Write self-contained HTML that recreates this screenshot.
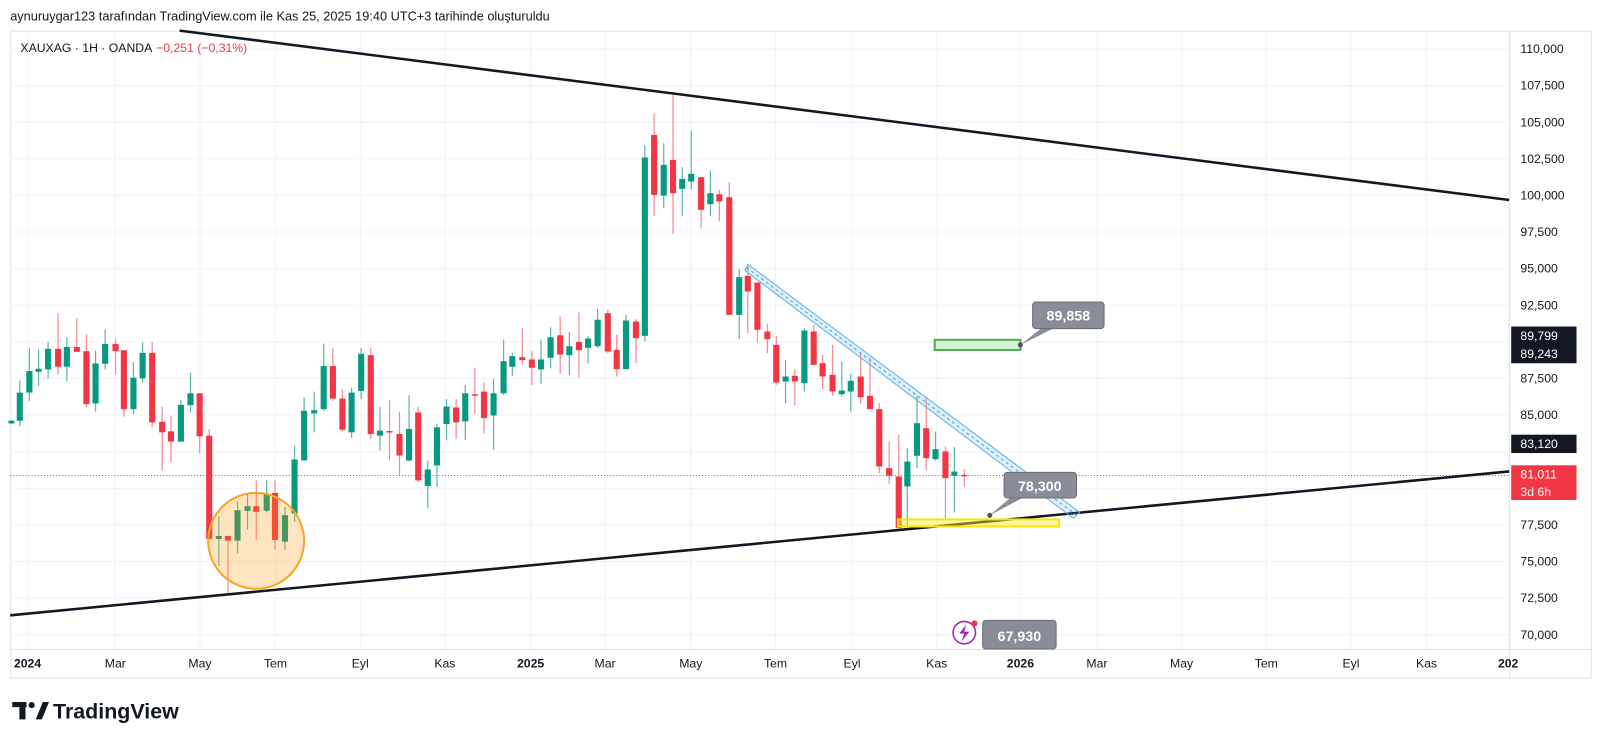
<!DOCTYPE html>
<html><head><meta charset="utf-8"><style>
body{margin:0;background:#fff;width:1600px;height:745px;overflow:hidden;font-family:"Liberation Sans",Arial,sans-serif}
svg text{font-family:"Liberation Sans",Arial,sans-serif}
</style></head><body>
<svg width="1600" height="745" xmlns="http://www.w3.org/2000/svg">
<rect x="0" y="0" width="1600" height="745" fill="#fff"/>
<g transform="scale(1.0204)">
<text x="10" y="20" font-size="12.5" fill="#131722">aynuruygar123 tarafından TradingView.com ile Kas 25, 2025 19:40 UTC+3 tarihinde oluşturuldu</text>
<rect x="10.5" y="30.5" width="1549" height="634" fill="none" stroke="#e0e3eb"/>
<line x1="1479.5" y1="30" x2="1479.5" y2="665" stroke="#e0e3eb"/>
<line x1="10" y1="636.5" x2="1560" y2="636.5" stroke="#e0e3eb"/>
<g id="grid" stroke="#f0f3fa" stroke-width="1"></g>
<g id="ylab" font-size="12" fill="#131722"></g>
<g id="xlab" font-size="12" fill="#131722"></g>
<line x1="10" y1="466" x2="1479" y2="466" stroke="#f23645" stroke-width="1" stroke-dasharray="1,2"/>
<g id="candles"></g>
<line x1="176" y1="30" x2="1479" y2="196" stroke="#131722" stroke-width="2.5"/>
<line x1="10" y1="603" x2="1479" y2="462" stroke="#131722" stroke-width="2.5"/>
<ellipse cx="251" cy="530" rx="47" ry="47" fill="rgba(255,152,0,0.25)" stroke="#f5a623" stroke-width="2"/>
<polygon points="733,259 1058,502 1052,508 730,265" fill="rgba(33,150,243,0.15)" stroke="#5fb4d9" stroke-width="1"/>
<line x1="731.5" y1="262" x2="1055" y2="505" stroke="#5b9bd5" stroke-width="1" stroke-dasharray="3,3"/>
<rect x="916" y="333" width="84" height="10" fill="#d6f0d3" stroke="#4caf50" stroke-width="2"/>
<rect x="880" y="509" width="158" height="7" fill="rgba(255,235,59,0.45)" stroke="#f5e50a" stroke-width="2"/>
<polygon points="1020,322 1032,322 1000,338" fill="#8a8d97"/>
<rect x="1012" y="296" width="70" height="26" rx="3" fill="#8a8d97" stroke="#6b6e78"/>
<text x="1047" y="314" font-size="14" font-weight="bold" fill="#fff" text-anchor="middle">89,858</text>
<circle cx="1000" cy="338" r="2.5" fill="#555"/>
<polygon points="990,488 1002,488 970,505" fill="#8a8d97"/>
<rect x="984" y="463" width="71" height="25" rx="3" fill="#8a8d97" stroke="#6b6e78"/>
<text x="1019" y="481" font-size="14" font-weight="bold" fill="#fff" text-anchor="middle">78,300</text>
<circle cx="970" cy="505" r="2.5" fill="#555"/>
<rect x="963" y="608" width="72" height="28" rx="3" fill="#8a8d97" stroke="#6b6e78"/>
<text x="999" y="628" font-size="14" font-weight="bold" fill="#fff" text-anchor="middle">67,930</text>
<circle cx="945" cy="620" r="11" fill="#fff" stroke="#9c27b0" stroke-width="1.5"/>
<path d="M947,612 L940,621 L945,621 L942,629 L950,619 L945,619 Z" fill="#9c27b0"/>
<circle cx="955" cy="611" r="3" fill="#f23645"/>
<text x="20" y="51" font-size="12" fill="#131722">XAUXAG · 1H · OANDA</text>
<text x="153" y="51" font-size="12" fill="#f23645">−0,251 (−0,31%)</text>
<rect x="1481" y="320" width="64" height="36" fill="#131722"/>
<text x="1490" y="333" font-size="12" fill="#fff">89,799</text>
<text x="1490" y="351" font-size="12" fill="#fff">89,243</text>
<rect x="1481" y="426" width="64" height="18" fill="#131722"/>
<text x="1490" y="439" font-size="12" fill="#fff">83,120</text>
<rect x="1481" y="456" width="64" height="34" fill="#f23645"/>
<text x="1490" y="469" font-size="12" fill="#fff">81,011</text>
<text x="1490" y="486" font-size="12" fill="#fff">3d 6h</text>
<g fill="#131722">
<rect x="12" y="688" width="14" height="5"/><rect x="19" y="688" width="6" height="17"/>
<circle cx="31" cy="691" r="3"/>
<polygon points="35,705 42,688 48,688 41,705"/>
</g>
<text x="52" y="704" font-size="21" font-weight="bold" fill="#131722">TradingView</text>
</g>
</svg>
<script>
var ns="http://www.w3.org/2000/svg";
function el(p,t,a,tx){var e=document.createElementNS(ns,t);for(var k in a)e.setAttribute(k,a[k]);if(tx)e.textContent=tx;document.getElementById(p).appendChild(e);return e;}
var prices=["110,000","107,500","105,000","102,500","100,000","97,500","95,000","92,500","90,000","87,500","85,000","82,500","80,000","77,500","75,000","72,500","70,000"];
for(var i=0;i<prices.length;i++){var y=48+i*35.875;
 el("grid","line",{x1:10,x2:1479,y1:y,y2:y});
 if(["90,000","82,500","80,000"].indexOf(prices[i])<0) el("ylab","text",{x:1490,y:y+4},prices[i]);}
var xs=[[27,"2024",1],[113,"Mar"],[196,"May"],[270,"Tem"],[353,"Eyl"],[436,"Kas"],[520,"2025",1],[593,"Mar"],[677,"May"],[760,"Tem"],[835,"Eyl"],[918,"Kas"],[1000,"2026",1],[1075,"Mar"],[1158,"May"],[1241,"Tem"],[1324,"Eyl"],[1398,"Kas"],[1478,"202",1]];
xs.forEach(function(a){el("grid","line",{x1:a[0],x2:a[0],y1:31,y2:636});
 var t=el("xlab","text",{x:a[0],y:654,"text-anchor":"middle"},a[1]);if(a[2])t.setAttribute("font-weight","bold");});
var z1=[[30,420,428,418,430,'g'],[50,335,420,298,437,'g'],[73,270,335,200,360,'g'],[95,263,272,205,315,'g'],[118,203,265,183,292,'g'],[142,203,257,95,280,'r'],[163,197,257,168,300,'g'],[187,197,212,110,212,'r'],[210,210,370,160,380,'r'],[232,247,368,208,392,'g'],[255,188,248,145,265,'g'],[280,188,210,172,280,'r'],[300,207,385,207,408,'r'],[323,290,385,243,400,'g'],[345,215,292,183,305,'g'],[368,215,425,183,440,'r'],[392,423,455,378,570,'r'],[413,452,483,405,545,'r'],[437,372,483,358,482,'g'],[460,337,373,275,395,'g'],[482,337,467,337,518,'r'],[505,465,777,445,777,'r'],[528,768,777,708,858,'g'],[550,768,782,768,940,'r'],[573,690,782,663,820,'g'],[597,678,692,640,748,'g'],[618,678,695,600,780,'r'],[643,640,692,600,697,'g'],[663,638,780,600,810,'r'],[687,705,785,680,810,'g'],[710,537,700,495,725,'g'],[733,390,540,350,540,'g'],[757,388,398,332,455,'g'],[780,255,385,187,390,'g'],[802,255,353,200,360,'r'],[825,353,447,325,452,'r'],[847,335,455,320,472,'g'],[870,218,330,200,355,'g'],[893,222,460,200,475,'r'],[915,450,465,378,510,'g'],[938,451,455,358,540,'r'],[962,460,525,393,585,'r'],[985,445,540,343,542,'g'],[1007,395,600,378,605,'r'],[1030,567,617,540,683,'g'],[1052,440,555,430,620,'g'],[1075,377,430,355,478,'g'],[1098,380,425,355,475,'r'],[1120,337,422,313,478,'g'],[1143,340,344,260,400,'r'],[1165,332,412,305,458,'r'],[1188,337,404,293,507,'g'],[1212,240,337,175,342,'g'],[1233,225,257,215,285,'g'],[1257,228,237,140,250,'r'],[1280,235,260,210,312,'r'],[1302,235,265,175,308,'g'],[1325,168,230,138,262,'g'],[1348,162,220,105,278,'r'],[1370,195,222,152,282,'g'],[1393,182,207,93,290,'r'],[1415,172,200,165,247,'g'],[1438,115,195,82,200,'g']];
var z2=[[18,700,815,690,820,'r'],[45,810,868,765,890,'r'],[73,722,868,705,868,'g'],[103,725,775,718,850,'r'],[130,233,768,195,785,'g'],[158,165,345,100,408,'r'],[187,255,347,190,385,'g'],[215,240,340,45,462,'r'],[243,297,327,262,408,'g'],[270,282,305,152,328,'g'],[300,292,390,290,445,'r'],[328,340,373,272,408,'g'],[355,343,365,330,425,'r'],[385,352,705,307,705,'r'],[415,592,705,567,778,'g'],[441,588,635,560,760,'r'],[470,608,750,608,788,'r'],[500,755,778,732,820,'r'],[527,795,908,768,915,'r'],[555,890,905,840,970,'g'],[583,888,905,868,975,'r'],[612,752,910,745,935,'g'],[640,755,855,735,855,'r'],[667,850,890,825,928,'r'],[697,885,935,795,948,'r'],[725,932,943,845,950,'g'],[752,903,935,882,995,'g'],[782,890,952,818,972,'r'],[810,948,988,835,988,'r'],[838,988,1160,970,1180,'r'],[868,1165,1188,1085,1212,'r'],[897,1190,1345,1065,1345,'r'],[923,1145,1220,1105,1340,'g'],[952,1030,1128,950,1165,'g'],[980,1045,1135,955,1172,'r'],[1008,1108,1138,1055,1142,'g'],[1038,1115,1195,1100,1320,'r'],[1065,1175,1188,1102,1298,'g'],[1095,1185,1188,1168,1220,'r']];
function draw(c,fx,fy){var x=fx(c[0]),bt=fy(c[1]),bb=fy(c[2]),wt=fy(c[3]),wb=fy(c[4]);
 var col=c[5]=='g'?'#089981':'#f23645',wc=c[5]=='g'?'#5fb5a4':'#f48a93';
 el("candles","line",{x1:x,x2:x,y1:wt,y2:wb,stroke:wc,"stroke-width":1.2});
 el("candles","rect",{x:x-3,y:bt,width:6,height:Math.max(bb-bt,1.5),fill:col});}
z1.forEach(function(c){draw(c,function(v){return 0.408*v-1},function(v){return 0.3246*v+276});});
z2.forEach(function(c){draw(c,function(v){return 0.3244*v+589.8},function(v){return 0.3266*v+78.3});});
</script>
</body></html>
